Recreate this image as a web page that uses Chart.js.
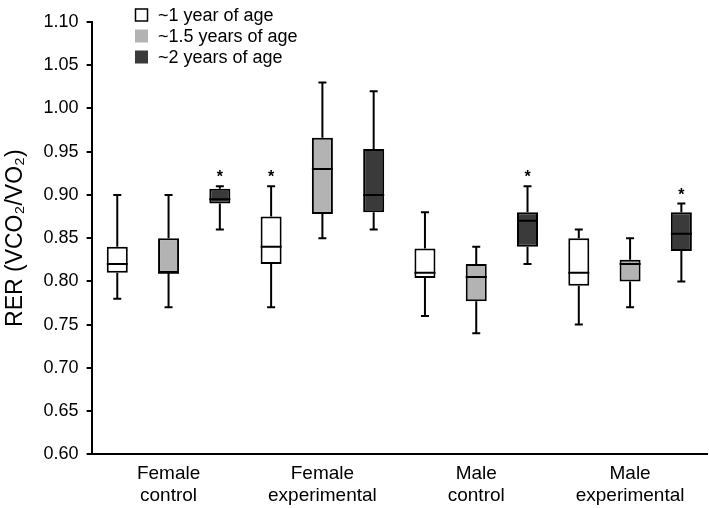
<!DOCTYPE html>
<html>
<head>
<meta charset="utf-8">
<script src="https://cdn.jsdelivr.net/npm/chart.js@4"></script>
<style>
  html, body { margin: 0; padding: 0; background: #fff; }
  #wrap { width: 709px; height: 508px; }
</style>
</head>
<body>
<div id="wrap"><canvas id="rer-chart"></canvas></div>
<script>
// groups on the x axis
const groups = [['Female', 'control'], ['Female', 'experimental'], ['Male', 'control'], ['Male', 'experimental']]
const seriesNames = ['~1 year of age', '~1.5 years of age', '~2 years of age']
const seriesColors = ['#ffffff', '#b3b3b3', '#3a3a3a']

// box plot values per series, one entry per group: [min, q1, median, q3, max]
const age1 = [
  [0.78, 0.81, 0.82, 0.84, 0.90],
  [0.77, 0.82, 0.84, 0.875, 0.91],
  [0.76, 0.804, 0.81, 0.838, 0.88],
  [0.75, 0.795, 0.81, 0.85, 0.86]
]
const age15 = [
  [0.77, 0.81, 0.81, 0.85, 0.90],
  [0.85, 0.878, 0.93, 0.966, 1.03],
  [0.74, 0.777, 0.805, 0.82, 0.84],
  [0.77, 0.80, 0.82, 0.825, 0.85]
]
const age2 = [
  [0.86, 0.89, 0.895, 0.907, 0.91],
  [0.86, 0.88, 0.90, 0.953, 1.02],
  [0.82, 0.84, 0.87, 0.88, 0.91],
  [0.80, 0.835, 0.855, 0.88, 0.89]
]
// significance marks (series index, group index)
const starred = [[2, 0], [0, 1], [2, 2], [2, 3]]

const yTicks = [0.60, 0.65, 0.70, 0.75, 0.80, 0.85, 0.90, 0.95, 1.00, 1.05, 1.10]

const allSeries = [age1, age15, age2]
const font = 'Arial, "Liberation Sans", sans-serif'

// whiskers, medians and asterisks on top of the floating bars
const boxExtras = {
  id: 'boxExtras',
  afterDatasetsDraw(chart) {
    const c = chart.ctx
    const y = chart.scales.y
    c.save()
    c.strokeStyle = '#000'
    c.lineWidth = 2
    allSeries.forEach((ser, i) => {
      const meta = chart.getDatasetMeta(i)
      ser.forEach((b, j) => {
        const bar = meta.data[j]
        const x = bar.x
        const half = bar.width / 2
        const yMin = y.getPixelForValue(b[0])
        const yQ1 = y.getPixelForValue(b[1])
        const yMed = y.getPixelForValue(b[2])
        const yQ3 = y.getPixelForValue(b[3])
        const yMax = y.getPixelForValue(b[4])
        c.beginPath()
        c.moveTo(x, yQ1); c.lineTo(x, yMin)
        c.moveTo(x - 4, yMin); c.lineTo(x + 4, yMin)
        c.moveTo(x, yQ3); c.lineTo(x, yMax)
        c.moveTo(x - 4, yMax); c.lineTo(x + 4, yMax)
        c.moveTo(x - half, yMed); c.lineTo(x + half, yMed)
        c.stroke()
      })
    })
    c.fillStyle = '#000'
    c.font = 'bold 16px ' + font
    c.textAlign = 'center'
    c.textBaseline = 'alphabetic'
    starred.forEach(([i, j]) => {
      const bar = chart.getDatasetMeta(i).data[j]
      c.fillText('*', bar.x, y.getPixelForValue(allSeries[i][j][4]) - 4)
    })
    c.restore()
  }
}

// legend drawn inside the plot, top left
const boxLegend = {
  id: 'boxLegend',
  afterDraw(chart) {
    const c = chart.ctx
    c.save()
    c.font = '18px ' + font
    c.textBaseline = 'middle'
    c.fillStyle = '#000'
    seriesNames.forEach((name, i) => {
      const yy = 15 + i * 21
      c.fillStyle = seriesColors[i]
      c.fillRect(135, yy - 6.5, 13, 13)
      if (i === 0) {
        c.strokeStyle = '#000'
        c.lineWidth = 1.5
        c.strokeRect(135.5, yy - 6, 12, 12)
      }
      c.fillStyle = '#000'
      c.fillText(name, 158, yy + 1)
    })
    c.restore()
  }
}

new Chart(document.getElementById('rer-chart'), {
  type: 'bar',
  data: {
    labels: groups,
    datasets: allSeries.map((ser, i) => ({
      label: seriesNames[i],
      data: ser.map(b => [b[1], b[3]]),
      backgroundColor: seriesColors[i],
      borderColor: '#000',
      borderWidth: 2,
      borderSkipped: false,
      categoryPercentage: 1,
      barPercentage: 0.41
    }))
  },
  options: {
    responsive: true,
    maintainAspectRatio: false,
    animation: false,
    layout: { padding: { top: 22, right: 2, bottom: 2, left: 2 } },
    plugins: {
      legend: { display: false },
      tooltip: { enabled: false }
    },
    scales: {
      x: {
        grid: { display: false, drawTicks: false },
        border: { display: true, color: '#000', width: 2 },
        ticks: { color: '#000', font: { family: font, size: 19, lineHeight: 1.15 }, padding: 9, maxRotation: 0 },
        afterFit: axis => { axis.height -= 10 }
      },
      y: {
        min: 0.60,
        max: 1.10,
        afterBuildTicks: axis => { axis.ticks = yTicks.map(v => ({ value: v })) },
        grid: { display: true, drawOnChartArea: false, drawTicks: true, tickLength: 5, color: '#000', lineWidth: 2 },
        border: { display: true, color: '#000', width: 2 },
        ticks: {
          color: '#000',
          font: { family: font, size: 18 },
          padding: 8,
          callback: v => Number(v).toFixed(2)
        },
        title: {
          display: true,
          text: 'RER (VCO\u2082/VO\u2082)',
          color: '#000',
          font: { family: font, size: 23 },
          padding: { top: 0, bottom: 6 }
        }
      }
    }
  },
  plugins: [boxExtras, boxLegend]
})
</script>
</body>
</html>
